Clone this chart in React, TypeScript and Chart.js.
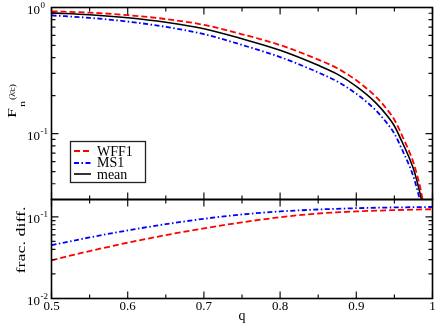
import { useEffect, useRef } from "react";
import { Chart, registerables } from "chart.js";

Chart.register(...registerables);

// ---------- data ----------
const qTop = [0.5, 0.55, 0.6, 0.65, 0.7, 0.75, 0.8, 0.85, 0.875, 0.9, 0.925, 0.94, 0.95, 0.96, 0.97, 0.975, 0.98, 0.985, 0.99];
const meanTop = [0.906, 0.877, 0.83, 0.764, 0.679, 0.565, 0.458, 0.348, 0.296, 0.237, 0.177, 0.1396, 0.1148, 0.0861, 0.0631, 0.0525, 0.0412, 0.0309, 0.0209];
const wff1Top = [0.9326, 0.9104, 0.87, 0.8096, 0.7281, 0.6134, 0.5033, 0.3862, 0.3294, 0.2646, 0.198, 0.1563, 0.1287, 0.0966, 0.0708, 0.0589, 0.0463, 0.0347, 0.0235];
const ms1Top = [0.8653, 0.8279, 0.7734, 0.7019, 0.6148, 0.5046, 0.4047, 0.3052, 0.2589, 0.2068, 0.1542, 0.1215, 0.0998, 0.0748, 0.0548, 0.0456, 0.0358, 0.0268, 0.0181];

const qBottom = [0.5, 0.55, 0.6, 0.65, 0.7, 0.75, 0.8, 0.85, 0.9, 0.95, 1.0];
const wff1Diff = [0.0294, 0.0381, 0.0482, 0.0597, 0.0723, 0.0857, 0.0989, 0.1099, 0.1164, 0.1208, 0.1239];
const ms1Diff = [0.0449, 0.056, 0.0682, 0.0813, 0.0946, 0.1069, 0.1164, 0.123, 0.1276, 0.1303, 0.1321];

const xMajorTicks = [0.5, 0.6, 0.7, 0.8, 0.9, 1.0];
const xTickLabels = ["0.5", "0.6", "0.7", "0.8", "0.9", "1"];
const xMinorTicks = [0.55, 0.65, 0.75, 0.85, 0.95];

const topYMajor = [1, 0.1];
const topYExps = ["0", "-1"];
const topYMinor = [0.9, 0.8, 0.7, 0.6, 0.5, 0.4, 0.3, 0.2, 0.09, 0.08, 0.07, 0.06, 0.05, 0.04, 0.03];

const botYMajor = [0.1, 0.01];
const botYExps = ["-1", "-2"];
const botYMinor = [0.09, 0.08, 0.07, 0.06, 0.05, 0.04, 0.03, 0.02];

const legendLabels = ["WFF1", "MS1", "mean"];
const xTitle = "q";
const bottomYTitle = "frac. diff.";

// ---------- styles ----------
const SERIF = '"Liberation Serif", "Times New Roman", serif';
const RED = "#ff0000";
const BLUE = "#0000ff";
const BLACK = "#000000";
const RED_DASH = [6, 3];
const BLUE_DASH = [5, 2.5, 1.5, 2.5];
const W = 436;
const H = 326;
const LEFT = 51.5;
const RIGHT = 432.5;
const TOP = 7.5;
const MID = 199.5;
const BOTTOM = 298.5;

function drawFrameAndTicks(chart: any, yMajor: number[], yMinor: number[]) {
  const { ctx, chartArea } = chart;
  const { left, right, top, bottom } = chartArea;
  const xs = chart.scales.x;
  const ys = chart.scales.y;
  ctx.save();
  ctx.strokeStyle = "#111";
  ctx.lineWidth = 1.2;
  ctx.setLineDash([]);
  ctx.beginPath();
  const major = 7;
  const minor = 4;
  for (const v of xMajorTicks) {
    const px = xs.getPixelForValue(v);
    ctx.moveTo(px, bottom); ctx.lineTo(px, bottom - major);
    ctx.moveTo(px, top); ctx.lineTo(px, top + major);
  }
  for (const v of xMinorTicks) {
    const px = xs.getPixelForValue(v);
    ctx.moveTo(px, bottom); ctx.lineTo(px, bottom - minor);
    ctx.moveTo(px, top); ctx.lineTo(px, top + minor);
  }
  for (const v of yMajor) {
    const py = ys.getPixelForValue(v);
    ctx.moveTo(left, py); ctx.lineTo(left + major, py);
    ctx.moveTo(right, py); ctx.lineTo(right - major, py);
  }
  for (const v of yMinor) {
    const py = ys.getPixelForValue(v);
    ctx.moveTo(left, py); ctx.lineTo(left + minor, py);
    ctx.moveTo(right, py); ctx.lineTo(right - minor, py);
  }
  ctx.stroke();
  ctx.lineWidth = 1.6;
  ctx.strokeStyle = "#000";
  ctx.strokeRect(left, top, right - left, bottom - top);
  ctx.restore();
}

function drawPowLabels(chart: any, yMajor: number[], exps: string[]) {
  const { ctx } = chart;
  const ys = chart.scales.y;
  ctx.save();
  ctx.fillStyle = "#000";
  yMajor.forEach((v, i) => {
    const py = ys.getPixelForValue(v);
    ctx.font = `13px ${SERIF}`;
    ctx.textAlign = "right";
    ctx.textBaseline = "alphabetic";
    ctx.fillText("10", 40, py + 6.5);
    ctx.font = `9px ${SERIF}`;
    ctx.textAlign = "left";
    ctx.fillText(exps[i], 40.5, py + 0.5);
  });
  ctx.restore();
}

const topPlugin = {
  id: "topDecor",
  afterDatasetsDraw(chart: any) {
    drawFrameAndTicks(chart, topYMajor, topYMinor);
    drawPowLabels(chart, topYMajor, topYExps);
    const { ctx } = chart;
    ctx.save();
    ctx.fillStyle = "#000";
    // y title F_n^(λ̄c)
    ctx.save();
    ctx.translate(16, 118);
    ctx.rotate(-Math.PI / 2);
    ctx.scale(1.5, 1);
    ctx.textAlign = "left";
    ctx.textBaseline = "alphabetic";
    ctx.font = `12px ${SERIF}`;
    ctx.fillText("F", 0, 0);
    ctx.font = `8px ${SERIF}`;
    ctx.fillText("n", 7.4, 9);
    ctx.restore();
    ctx.save();
    ctx.translate(14.5, 100);
    ctx.rotate(-Math.PI / 2);
    ctx.scale(1.25, 1);
    ctx.font = `8px ${SERIF}`;
    ctx.textAlign = "left";
    ctx.fillText("(\u03bb\u0304c)", 0, 0);
    ctx.restore();

    // legend
    const bx = 70.5, by = 141.5, bw = 75, bh = 41;
    ctx.strokeStyle = "#222";
    ctx.lineWidth = 1.3;
    ctx.strokeRect(bx, by, bw, bh);
    const rows = [
      { label: legendLabels[0], color: RED, dash: RED_DASH, width: 1.8, ly: 151, ty: 155.5 },
      { label: legendLabels[1], color: BLUE, dash: BLUE_DASH, width: 1.8, ly: 163, ty: 167 },
      { label: legendLabels[2], color: BLACK, dash: [], width: 1.6, ly: 174, ty: 178.5 },
    ];
    ctx.font = `14px ${SERIF}`;
    ctx.textAlign = "left";
    for (const r of rows) {
      ctx.beginPath();
      ctx.strokeStyle = r.color;
      ctx.lineWidth = r.width;
      ctx.setLineDash(r.dash);
      ctx.moveTo(74, r.ly);
      ctx.lineTo(91, r.ly);
      ctx.stroke();
      ctx.setLineDash([]);
      ctx.fillStyle = "#000";
      ctx.fillText(r.label, 97, r.ty);
    }
    ctx.restore();
  },
};

const bottomPlugin = {
  id: "bottomDecor",
  afterDatasetsDraw(chart: any) {
    drawFrameAndTicks(chart, botYMajor, botYMinor);
    drawPowLabels(chart, botYMajor, botYExps);
    const { ctx } = chart;
    const xs = chart.scales.x;
    ctx.save();
    ctx.fillStyle = "#000";
    ctx.font = `13px ${SERIF}`;
    ctx.textAlign = "center";
    ctx.textBaseline = "alphabetic";
    xMajorTicks.forEach((v, i) => {
      ctx.fillText(xTickLabels[i], xs.getPixelForValue(v), 309.5);
    });
    ctx.font = `14px ${SERIF}`;
    ctx.fillText(xTitle, 242, 320);
    // y title
    ctx.save();
    ctx.translate(25, 240);
    ctx.rotate(-Math.PI / 2);
    ctx.scale(1.5, 1);
    ctx.font = `12px ${SERIF}`;
    ctx.textAlign = "center";
    ctx.fillText(bottomYTitle, 0, 0);
    ctx.restore();
    ctx.restore();
  },
};

function lineDs(label: string, xs: number[], ys: number[], color: string, dash: number[], width: number) {
  return {
    label,
    data: xs.map((x, i) => ({ x, y: ys[i] })),
    borderColor: color,
    backgroundColor: color,
    borderDash: dash,
    borderWidth: width,
    pointRadius: 0,
    fill: false,
    cubicInterpolationMode: "monotone" as const,
  };
}

export default function App() {
  const topRef = useRef<HTMLCanvasElement | null>(null);
  const botRef = useRef<HTMLCanvasElement | null>(null);

  useEffect(() => {
    document.body.style.margin = "0";
    const common = (padTop: number, padBottom: number, min: number, max: number) => ({
      responsive: false,
      animation: false as const,
      events: [] as any[],
      layout: { padding: { left: LEFT, right: W - RIGHT, top: padTop, bottom: padBottom } },
      scales: {
        x: { type: "linear" as const, min: 0.5, max: 1, display: false },
        y: { type: "logarithmic" as const, min, max, display: false },
      },
      plugins: { legend: { display: false }, tooltip: { enabled: false } },
    });
    const top = new Chart(topRef.current!, {
      type: "line",
      data: {
        datasets: [
          lineDs(legendLabels[0], qTop, wff1Top, RED, RED_DASH, 1.8),
          lineDs(legendLabels[1], qTop, ms1Top, BLUE, BLUE_DASH, 1.8),
          lineDs(legendLabels[2], qTop, meanTop, BLACK, [], 1.6),
        ],
      },
      options: common(TOP, H - MID, 0.03, 1) as any,
      plugins: [topPlugin],
    });
    const bot = new Chart(botRef.current!, {
      type: "line",
      data: {
        datasets: [
          lineDs(legendLabels[0], qBottom, wff1Diff, RED, RED_DASH, 1.8),
          lineDs(legendLabels[1], qBottom, ms1Diff, BLUE, BLUE_DASH, 1.8),
        ],
      },
      options: common(MID, H - BOTTOM, 0.01, 0.163) as any,
      plugins: [bottomPlugin],
    });
    return () => {
      top.destroy();
      bot.destroy();
    };
  }, []);

  return (
    <div style={{ position: "relative", width: W, height: H, background: "#fff" }}>
      <canvas ref={topRef} width={W} height={H} style={{ position: "absolute", left: 0, top: 0 }} />
      <canvas ref={botRef} width={W} height={H} style={{ position: "absolute", left: 0, top: 0 }} />
    </div>
  );
}
